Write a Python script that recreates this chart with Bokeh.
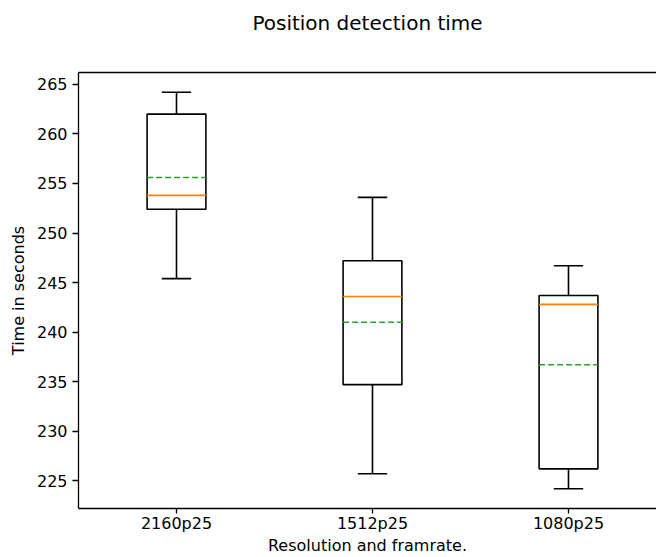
from bokeh.plotting import figure
from bokeh.models import Range1d, FixedTicker, LinearAxis, ColumnDataSource
from bokeh.embed import file_html
from bokeh.resources import INLINE

# ---- data ----
categories = ["2160p25", "1512p25", "1080p25"]
whisker_low = [245.4, 225.7, 224.2]
q1 = [252.4, 234.7, 226.2]
median = [253.8, 243.6, 242.8]
mean = [255.6, 241.0, 236.7]
q3 = [262.0, 247.2, 243.7]
whisker_high = [264.2, 253.6, 246.7]
y_ticks = [225, 230, 235, 240, 245, 250, 255, 260, 265]

FONT = "DejaVu Sans"
BOX_W = 0.3
CAP_W = 0.15

pos = list(range(1, len(categories) + 1))
src = ColumnDataSource(dict(
    x=pos,
    lo=whisker_low, q1=q1, med=median, mean=mean, q3=q3, hi=whisker_high,
    xl=[x - BOX_W / 2 for x in pos], xr=[x + BOX_W / 2 for x in pos],
    cl=[x - CAP_W / 2 for x in pos], cr=[x + CAP_W / 2 for x in pos],
))

p = figure(width=656, height=557, output_backend="svg", toolbar_location=None,
           x_range=Range1d(0.5, 3.449), y_range=Range1d(222.2, 266.2),
           min_border_left=78, min_border_right=0, min_border_top=72,
           min_border_bottom=48, x_axis_location="below")

p.outline_line_color = None
p.xgrid.visible = False
p.ygrid.visible = False
p.background_fill_color = "white"
p.border_fill_color = "white"

# title
p.title.text = "Position detection time"
p.title.align = "center"
p.title.vertical_align = "top"
p.title.text_font = FONT
p.title.text_font_size = "20px"
p.title.text_font_style = "normal"
p.title.text_color = "black"
p.title.standoff = 20

# axes
for ax in (p.xaxis[0], p.yaxis[0]):
    ax.axis_line_color = "black"
    ax.axis_line_width = 1.3
    ax.major_tick_line_color = "black"
    ax.major_tick_line_width = 1.3
    ax.major_tick_out = 5
    ax.major_tick_in = 0
    ax.minor_tick_line_color = None
    ax.major_label_text_font = FONT
    ax.major_label_text_font_size = "16px"
    ax.major_label_text_color = "black"
    ax.axis_label_text_font = FONT
    ax.axis_label_text_font_size = "16px"
    ax.axis_label_text_font_style = "normal"
    ax.axis_label_text_color = "black"
    ax.major_label_standoff = 0

p.xaxis.ticker = FixedTicker(ticks=pos)
p.xaxis.major_label_overrides = {x: c for x, c in zip(pos, categories)}
p.xaxis.axis_label = "Resolution and framrate."
p.xaxis.axis_label_standoff = 0
p.yaxis.ticker = FixedTicker(ticks=y_ticks)
p.yaxis.axis_label = "Time in seconds"
p.yaxis.axis_label_standoff = 6
p.yaxis.major_tick_out = 6
p.yaxis.major_label_standoff = 5

# top spine (plain line, no visible ticks); invisible tick length keeps the title's gap
top = LinearAxis(ticker=FixedTicker(ticks=[pos[0]]), axis_line_color="black",
                 axis_line_width=1.3, major_tick_line_color=None,
                 minor_tick_line_color=None, major_label_text_font_size="0px",
                 major_label_text_color=None,
                 major_tick_out=26, major_tick_in=0, major_label_standoff=0)
p.add_layout(top, "above")

# whiskers
p.segment(x0="x", y0="q3", x1="x", y1="hi", source=src, line_color="black", line_width=1.6)
p.segment(x0="x", y0="q1", x1="x", y1="lo", source=src, line_color="black", line_width=1.6)
# caps
p.segment(x0="cl", y0="hi", x1="cr", y1="hi", source=src, line_color="black", line_width=1.6)
p.segment(x0="cl", y0="lo", x1="cr", y1="lo", source=src, line_color="black", line_width=1.6)
# boxes
p.quad(left="xl", right="xr", bottom="q1", top="q3", source=src,
       fill_color=None, line_color="black", line_width=1.6)
# medians
p.segment(x0="xl", y0="med", x1="xr", y1="med", source=src, line_color="#ff7f0e", line_width=1.6)
# means
p.segment(x0="xl", y0="mean", x1="xr", y1="mean", source=src, line_color="#2ca02c",
          line_width=1.6, line_dash="6 3")

open("out.html", "w").write(file_html(p, INLINE))
